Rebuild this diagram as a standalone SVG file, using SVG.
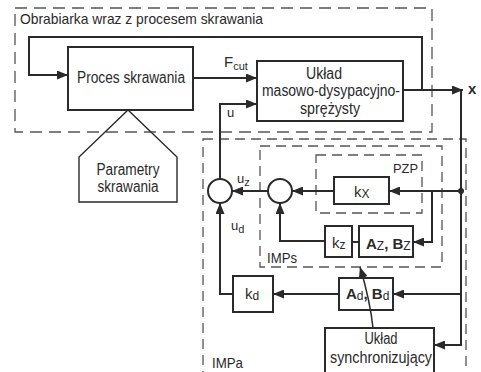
<svg xmlns="http://www.w3.org/2000/svg" width="481" height="372" viewBox="0 0 481 372">
<style>
text{font-family:"Liberation Sans",Arial,sans-serif;fill:#2a2a2a}
.t{font-size:16px}
.m{text-anchor:middle}
.box{fill:none;stroke:#2a2a2a;stroke-width:2}
.thin{fill:none;stroke:#2a2a2a;stroke-width:1.4}
.dash{fill:none;stroke:#555;stroke-width:1.3;stroke-dasharray:12 7}
.dash2{fill:none;stroke:#555;stroke-width:1.3;stroke-dasharray:10 6}
.c{fill:none;stroke:#2a2a2a;stroke-width:2}
.a{marker-end:url(#arr)}
</style>
<defs>
<marker id="arr" markerUnits="userSpaceOnUse" markerWidth="11" markerHeight="9" refX="11" refY="4.5" orient="auto">
<path d="M0,0 L11,4.5 L0,9 z" fill="#2a2a2a"/>
</marker>
</defs>
<rect width="481" height="372" fill="#fff"/>

<g id="obrabiarka">
<rect class="dash" x="15" y="8" width="417" height="124"/>
<text x="20" y="24" font-size="15" textLength="243" lengthAdjust="spacingAndGlyphs">Obrabiarka wraz z procesem skrawania</text>
</g>
<g id="impa">
<rect class="dash2" x="203" y="139" width="263" height="250"/>
<text x="212" y="368" font-size="15" textLength="31" lengthAdjust="spacingAndGlyphs">IMPa</text>
</g>
<g id="imps">
<rect class="dash2" x="260" y="146" width="182" height="121"/>
<text x="267" y="263" font-size="15" textLength="30" lengthAdjust="spacingAndGlyphs">IMPs</text>
</g>
<g id="pzp">
<rect class="dash2" x="316" y="155" width="106" height="58"/>
<text x="393" y="173" font-size="13" textLength="25" lengthAdjust="spacingAndGlyphs">PZP</text>
</g>

<g id="proces">
<rect class="box" x="68" y="47" width="125" height="63"/>
<text class="t m" x="131" y="83" textLength="108" lengthAdjust="spacingAndGlyphs">Proces skrawania</text>
</g>
<g id="parametry">
<path class="thin" d="M79,202 L79,157 L128,110 L177,157 L177,202 Z"/>
<text class="t m" x="128" y="175" textLength="63" lengthAdjust="spacingAndGlyphs">Parametry</text>
<text class="t m" x="128" y="192" textLength="61" lengthAdjust="spacingAndGlyphs">skrawania</text>
</g>
<g id="uklad">
<rect class="box" x="257" y="61" width="146" height="60"/>
<text class="t m" x="324" y="79" textLength="36" lengthAdjust="spacingAndGlyphs">Układ</text>
<text class="t m" x="331" y="96" textLength="138" lengthAdjust="spacingAndGlyphs">masowo-dysypacyjno-</text>
<text class="t m" x="330" y="114" textLength="60" lengthAdjust="spacingAndGlyphs">sprężysty</text>
</g>
<g id="kx">
<rect class="box" x="334" y="177" width="55" height="27"/>
<text x="354" y="197" font-size="15">k<tspan font-size="12" dy="1">X</tspan></text>
</g>
<g id="kz">
<rect class="box" x="325" y="226" width="27" height="31"/>
<text x="332" y="248" font-size="15">k<tspan font-size="12" dy="1">z</tspan></text>
</g>
<g id="azbz">
<rect class="box" x="359" y="226" width="54" height="31"/>
<text x="366" y="249" font-size="15" font-weight="bold">A<tspan font-size="12" font-weight="normal" dy="1">Z</tspan><tspan dy="-1">, B</tspan><tspan font-size="12" font-weight="normal" dy="1">Z</tspan></text>
</g>
<g id="kd">
<rect class="box" x="233" y="276" width="40" height="36"/>
<text x="245" y="299" font-size="15">k<tspan font-size="12" dy="1">d</tspan></text>
</g>
<g id="adbd">
<rect class="box" x="339" y="278" width="54" height="32"/>
<text x="346" y="299" font-size="15" font-weight="bold">A<tspan font-size="12" font-weight="normal" dy="1">d</tspan><tspan dy="-1">, B</tspan><tspan font-size="12" font-weight="normal" dy="1">d</tspan></text>
</g>
<g id="sync">
<rect class="box" x="325" y="328" width="109" height="48"/>
<text class="t m" x="381" y="344" textLength="33" lengthAdjust="spacingAndGlyphs">Układ</text>
<text class="t m" x="381" y="363" textLength="102" lengthAdjust="spacingAndGlyphs">synchronizujący</text>
</g>
<g id="sum1"><circle class="c" cx="220" cy="191" r="12" fill="#fff"/></g>
<g id="sum2"><circle class="c" cx="280" cy="191" r="12" fill="#fff"/></g>

<g id="connectors" class="c">
<path class="a" d="M403,90 L463,90"/>
<path d="M461,90 L461,300"/>
<path class="a" d="M461,294 L461,345 L434,345"/>
<path class="a" d="M422,90 L422,37 L29,37 L29,75 L68,75"/>
<path class="a" d="M193,78 L257,78"/>
<path class="a" d="M220,179 L220,104 L257,104"/>
<path class="a" d="M268,191 L232,191"/>
<path class="a" d="M334,191 L292,191"/>
<path class="a" d="M461,191 L389,191"/>
<path class="a" d="M432,191 L432,242 L413,242"/>
<path d="M359,242 L352,242"/>
<path class="a" d="M325,241 L280,241 L280,203"/>
<path class="a" d="M233,294 L220,294 L220,203"/>
<path class="a" d="M339,294 L273,294"/>
<path class="a" d="M461,294 L393,294"/>
<path class="a" style="stroke-width:1.5" d="M373,328 Q370,300 360,267"/>
<circle cx="461" cy="191" r="3" fill="#2a2a2a" stroke="none"/>
</g>
<g id="labels">
<text x="224" y="67" font-size="15">F<tspan font-size="11" dy="3">cut</tspan></text>
<text x="227" y="117" font-size="13">u</text>
<text x="237" y="183" font-size="13">u<tspan font-size="11" dy="3">z</tspan></text>
<text x="231" y="230" font-size="13">u<tspan font-size="11" dy="3">d</tspan></text>
<text x="468" y="94" font-size="15" font-weight="bold">x</text>
</g>
</svg>
